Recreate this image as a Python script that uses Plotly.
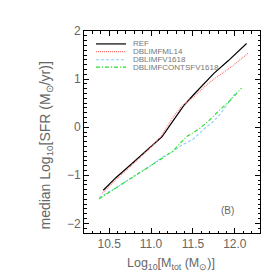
import plotly.graph_objects as go

# ---- data ----
mass_ref = [10.43, 10.58, 10.77, 10.96, 11.13, 11.25, 11.39, 11.51, 11.63, 11.75, 11.92, 12.14]
sfr_ref = [-1.31, -1.05, -0.76, -0.46, -0.20, 0.10, 0.45, 0.68, 0.90, 1.12, 1.38, 1.74]

mass_ml14 = [10.42, 10.58, 10.77, 10.96, 11.13, 11.25, 11.36, 11.51, 11.63, 11.75, 11.97, 12.16]
sfr_ml14 = [-1.37, -1.09, -0.79, -0.48, -0.17, 0.18, 0.43, 0.63, 0.83, 1.00, 1.27, 1.54]

mass_v1618 = [10.38, 10.58, 10.81, 10.96, 11.14, 11.27, 11.36, 11.51, 11.63, 11.73, 11.82, 11.92, 12.02]
sfr_v1618 = [-1.46, -1.26, -1.00, -0.84, -0.62, -0.50, -0.38, -0.24, -0.04, 0.10, 0.26, 0.50, 0.74]

mass_cont = [10.38, 10.58, 10.81, 10.96, 11.14, 11.27, 11.35, 11.42, 11.57, 11.68, 11.79, 11.94, 12.08]
sfr_cont = [-1.49, -1.27, -1.00, -0.84, -0.64, -0.48, -0.33, -0.20, -0.04, 0.12, 0.31, 0.55, 0.81]

names = ["REF", "DBLIMFML14", "DBLIMFV1618", "DBLIMFCONTSFV1618"]
colors = ["#000000", "#ff6f6f", "#87cefa", "#22e022"]
dashes = ["solid", "1px,1px", "3px,2px", "4px,2px,1px,2px"]
widths = [1.2, 1.1, 1.1, 1.1]

xs = [mass_ref, mass_ml14, mass_v1618, mass_cont]
ys = [sfr_ref, sfr_ml14, sfr_v1618, sfr_cont]

FONT = "Liberation Sans"
GREY = "#666666"

fig = go.Figure()
for x, y, n, c, d, w in zip(xs, ys, names, colors, dashes, widths):
    fig.add_trace(go.Scatter(x=x, y=y, mode="lines", name=n,
                             line=dict(color=c, dash=d, width=w),
                             showlegend=False))

# manual legend
leg_y = [0.936, 0.898, 0.858, 0.821]
for n, c, d, w, yy in zip(names, colors, dashes, widths, leg_y):
    fig.add_shape(type="line", xref="paper", yref="paper",
                  x0=0.068, x1=0.239, y0=yy, y1=yy,
                  line=dict(color=c, dash=d, width=w))
    fig.add_annotation(x=0.267, y=yy, xref="paper", yref="paper",
                       text=n, showarrow=False, xanchor="left", yanchor="middle",
                       font=dict(size=8, color="#777777", family=FONT))

fig.add_annotation(x=0.864, y=0.074, xref="paper", yref="paper", text="(B)",
                   showarrow=False, font=dict(size=10, color=GREY, family=FONT))

# axis titles
fig.add_annotation(x=0.494, y=-0.153, xref="paper", yref="paper",
                   text="Log<sub>10</sub>[M<sub>tot</sub> (M<sub>⊙</sub>)]",
                   showarrow=False, xanchor="center", yanchor="middle",
                   font=dict(size=12.5, color=GREY, family=FONT))
fig.add_annotation(x=-0.216, y=0.433, xref="paper", yref="paper",
                   text="median Log<sub>10</sub>[SFR (M<sub>⊙</sub>/yr)]",
                   showarrow=False, xanchor="center", yanchor="middle", textangle=-90,
                   font=dict(size=14, color=GREY, family=FONT))

axis_common = dict(showline=True, linecolor="#000000", linewidth=1, mirror="ticks",
                   ticks="inside", ticklen=5, tickcolor="#000000", tickwidth=1,
                   showgrid=False, zeroline=False,
                   tickfont=dict(size=12, color=GREY, family=FONT))

fig.update_layout(
    width=274, height=274,
    margin=dict(l=76, r=22, t=23, b=49),
    plot_bgcolor="white", paper_bgcolor="white",
    xaxis=dict(range=[10.2, 12.3], tickvals=[10.5, 11.0, 11.5, 12.0],
               ticktext=["10.5", "11.0", "11.5", "12.0"],
               minor=dict(dtick=0.1, tick0=10.0, ticks="inside", ticklen=2.5, tickcolor="#000000"),
               **axis_common),
    yaxis=dict(range=[-2.2, 2.0], tickvals=[-2, -1, 0, 1, 2],
               minor=dict(dtick=0.1, tick0=0, ticks="inside", ticklen=2.5, tickcolor="#000000"),
               **axis_common),
)

fig.write_html("out.html")
